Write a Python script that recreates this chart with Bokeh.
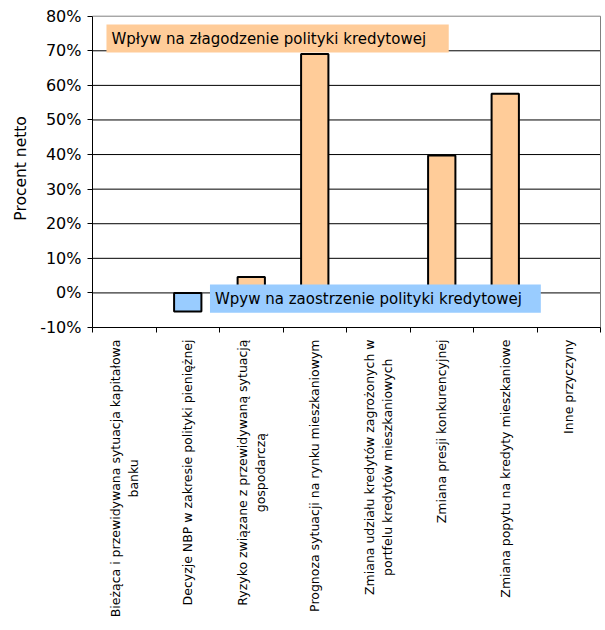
import numpy as np
from bokeh.plotting import figure
from bokeh.models import (Range1d, FixedTicker, PrintfTickFormatter, LinearAxis,
                          BoxAnnotation, Label)
from bokeh.embed import file_html
from bokeh.resources import INLINE

# Factors behind credit policy changes (net percent)
categories = [
    "Bieżąca i przewidywana sytuacja kapitałowa\nbanku",
    "Decyzje NBP w zakresie polityki pieniężnej",
    "Ryzyko związane z przewidywaną sytuacją\ngospodarczą",
    "Prognoza sytuacji na rynku mieszkaniowym",
    "Zmiana udziału kredytów zagrożonych w\nportfelu kredytów mieszkaniowych",
    "Zmiana presji konkurencyjnej",
    "Zmiana popytu na kredyty mieszkaniowe",
    "Inne przyczyny",
]
easing = [0.0, 0.0, 4.6, 69.1, 0.0, 39.7, 57.6, 0.0]
tightening = [0.0, -5.4, 0.0, 0.0, 0.0, 0.0, 0.0, 0.0]
y_ticks = [-10, 0, 10, 20, 30, 40, 50, 60, 70, 80]
easing_label = "Wpływ na złagodzenie polityki kredytowej"
tightening_label = "Wpyw na zaostrzenie polityki kredytowej"
y_title = "Procent netto"

FONT = "DejaVu Sans"
ORANGE = "#FFCC99"
BLUE = "#99CCFF"

W, H = 605, 630
n = len(categories)
xs = np.arange(n) + 0.5
y_lo, y_hi = y_ticks[0], y_ticks[-1]

# The drawing area spans the whole canvas; the chart box sits inside it so
# that the rotated category names below the axis are not clipped.
box_left, box_right, box_top, box_bottom = 92.0, 600.0, 15.7, 327.0
px_x = (box_right - box_left) / n
px_y = (box_bottom - box_top) / (y_hi - y_lo)
x_range = Range1d(-box_left / px_x, n + (W - box_right) / px_x)
y_range = Range1d(y_lo - (H - box_bottom) / px_y, y_hi + box_top / px_y)

p = figure(width=W, height=H, output_backend="svg", toolbar_location=None,
           x_range=x_range, y_range=y_range,
           x_axis_type=None, y_axis_type=None,
           min_border=0)
p.background_fill_color = "white"
p.border_fill_color = "white"
p.outline_line_color = None
p.xgrid.visible = False
p.ygrid.visible = False

# horizontal gridlines, plus the grey top and right edges of the chart box
inner = y_ticks[1:-1]
p.segment(x0=[0] * len(inner), x1=[n] * len(inner), y0=inner, y1=inner,
          line_color="black", line_width=1)
p.segment(x0=[0, n], x1=[n, n], y0=[y_hi, y_lo], y1=[y_hi, y_hi],
          line_color="#808080", line_width=1)

# y axis
yaxis = LinearAxis(ticker=FixedTicker(ticks=y_ticks, minor_ticks=[]),
                   formatter=PrintfTickFormatter(format="%d%%"),
                   fixed_location=0, bounds=(y_lo, y_hi))
yaxis.major_label_text_font = FONT
yaxis.major_label_text_font_size = "16px"
yaxis.major_label_text_color = "black"
yaxis.major_label_standoff = 6
yaxis.axis_line_color = "black"
yaxis.major_tick_line_color = "black"
yaxis.major_tick_out = 5
yaxis.major_tick_in = 0
yaxis.minor_tick_line_color = None
p.add_layout(yaxis, "left")

p.add_layout(Label(x=-1.13, y=(y_lo + y_hi) / 2 + 1, text=y_title, angle=np.pi / 2,
                   anchor="center", text_align="center",
                   text_font=FONT, text_font_size="15.5px", text_color="black"))

# x axis: tick marks at category boundaries only
xaxis = LinearAxis(ticker=FixedTicker(ticks=[], minor_ticks=list(range(n + 1))),
                   fixed_location=y_lo, bounds=(0, n))
xaxis.axis_line_color = "black"
xaxis.major_tick_line_color = None
xaxis.minor_tick_line_color = "black"
xaxis.minor_tick_out = 5
xaxis.minor_tick_in = 0
p.add_layout(xaxis, "below")

# category names, rotated and centred under each category
for x, c in zip(xs, categories):
    p.add_layout(Label(x=float(x), y=y_lo, y_offset=-12, text=c,
                       angle=np.pi / 2, anchor="center_right", text_align="center",
                       text_font=FONT, text_font_size="12.5px",
                       text_line_height=1.2, text_color="black"))

bar_w = 0.43
e_idx = [i for i, v in enumerate(easing) if v != 0]
t_idx = [i for i, v in enumerate(tightening) if v != 0]
p.vbar(x=[xs[i] for i in e_idx], top=[easing[i] for i in e_idx], bottom=0,
       width=bar_w, fill_color=ORANGE, line_color="black", line_width=2)
p.vbar(x=[xs[i] for i in t_idx], top=[tightening[i] for i in t_idx], bottom=0,
       width=bar_w, fill_color=BLUE, line_color="black", line_width=2)

# legend boxes
def legend_box(left, right, top, bottom, color, text):
    p.add_layout(BoxAnnotation(left=left, right=right, top=top, bottom=bottom,
                               fill_color=color, fill_alpha=1.0, line_color=None,
                               level="overlay"))
    p.add_layout(Label(x=left, y=(top + bottom) / 2, x_offset=5, text=text,
                       text_font=FONT, text_font_size="15px",
                       text_baseline="middle", text_color="black",
                       level="overlay"))

legend_box(0.22, 5.61, 77.6, 69.5, ORANGE, easing_label)
legend_box(1.85, 7.06, 2.4, -5.7, BLUE, tightening_label)

open("out.html", "w").write(file_html(p, INLINE))
